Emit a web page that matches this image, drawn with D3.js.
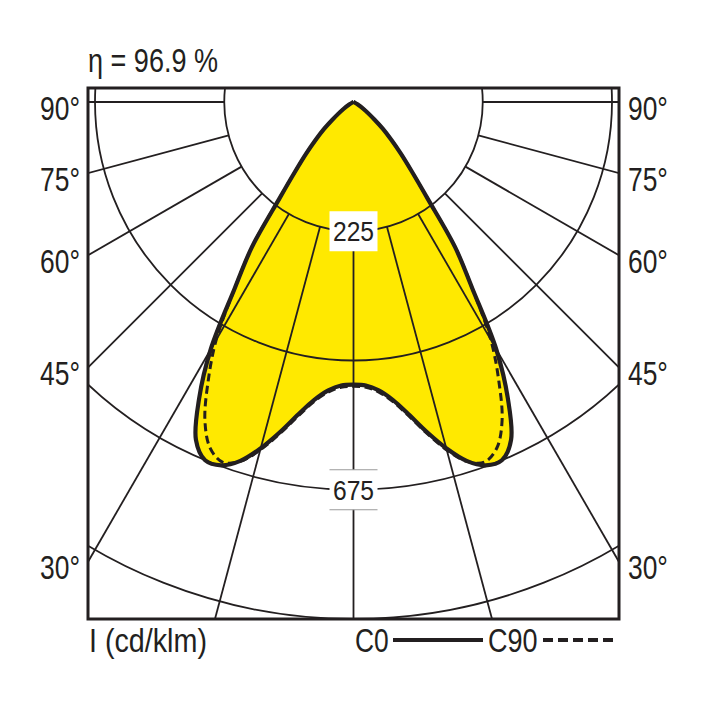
<!DOCTYPE html>
<html>
<head>
<meta charset="utf-8">
<script src="https://cdn.jsdelivr.net/npm/d3@7"></script>
<style>
  html, body { margin: 0; padding: 0; background: #fff; }
  svg { display: block; }
  text { font-family: "Liberation Sans", Arial, sans-serif; fill: #231f20; }
</style>
</head>
<body>
<svg id="chart" width="708" height="708"></svg>
<script>
// Luminous intensity distribution (cd/klm), gamma in degrees from nadir
const gammas = [0, 2.5, 5, 7.5, 10, 12.5, 15, 17.5, 20, 22.5, 25, 27.5, 30, 32.5, 35, 37.5, 40, 42.5, 45, 47.5, 50, 55, 60, 65, 70, 80, 90];
const c0Values = [492, 494, 504, 523, 552, 588, 624, 655, 673, 675, 649, 582, 497, 385, 308, 212, 158, 122, 93, 70, 48, 22, 8, 2, 0, 0, 0];
const c90Values = [495, 497, 507, 526, 555, 591, 627, 656, 667, 652, 612, 548, 478, 385, 308, 212, 158, 122, 93, 70, 48, 22, 8, 2, 0, 0, 0];

// Grid
const ringValues = [225, 450, 675, 900];
const ringLabels = [225, 675];
const spokeAngles = [0, 15, 30, 45, 60, 75, 90];
const sideLabels = [90, 75, 60, 45, 30];

const efficiency = "η = 96.9 %";
const unitLabel = "I (cd/klm)";
const legendNames = ["C0", "C90"];

const ink = "#231f20";
const yellow = "#ffe900";

// Set up dimensions of the frame
const frame = { left: 88, top: 88, right: 619, bottom: 619 };
const cx = (frame.left + frame.right) / 2;
const cy = 102;
const halfW = (frame.right - frame.left) / 2;

const rScale = d3.scaleLinear().domain([0, 900]).range([0, 517]);

const svg = d3.select("#chart");

svg.append("defs")
  .append("clipPath")
  .attr("id", "frameClip")
  .append("rect")
  .attr("x", frame.left)
  .attr("y", frame.top)
  .attr("width", frame.right - frame.left)
  .attr("height", frame.bottom - frame.top);

const plot = svg.append("g")
  .attr("clip-path", "url(#frameClip)");

const g = plot.append("g")
  .attr("transform", `translate(${cx}, ${cy})`);

// build symmetric polar points (left side then right side), drop repeated origin points
function curvePoints(values) {
  const pts = [];
  for (let i = gammas.length - 1; i >= 0; i--) pts.push([-gammas[i], values[i]]);
  for (let i = 1; i < gammas.length; i++) pts.push([gammas[i], values[i]]);
  return pts.filter((d, i, arr) => !(d[1] === 0 && i > 0 && arr[i - 1][1] === 0));
}

const radial = d3.lineRadial()
  .angle((d) => Math.PI - (d[0] * Math.PI) / 180)
  .radius((d) => rScale(d[1]))
  .curve(d3.curveCatmullRom.alpha(0.5));

const c0Points = curvePoints(c0Values);
const c90Points = curvePoints(c90Values);

// Yellow fill
[c0Points, c90Points].forEach((pts) => {
  g.append("path")
    .datum(pts)
    .attr("fill", yellow)
    .attr("stroke", "none")
    .attr("d", radial);
});

// Rings
g.selectAll(".ring")
  .data(ringValues)
  .enter()
  .append("circle")
  .attr("class", "ring")
  .attr("r", (d) => rScale(d))
  .attr("fill", "none")
  .attr("stroke", ink)
  .attr("stroke-width", 1.8);

// Spokes, both sides, from the first ring outward
const spokes = [];
spokeAngles.forEach((a) => {
  spokes.push(a);
  if (a !== 0) spokes.push(-a);
});
g.selectAll(".spoke")
  .data(spokes)
  .enter()
  .append("line")
  .attr("class", "spoke")
  .attr("x1", (d) => rScale(ringValues[0]) * Math.sin((d * Math.PI) / 180))
  .attr("y1", (d) => rScale(ringValues[0]) * Math.cos((d * Math.PI) / 180))
  .attr("x2", (d) => rScale(1400) * Math.sin((d * Math.PI) / 180))
  .attr("y2", (d) => rScale(1400) * Math.cos((d * Math.PI) / 180))
  .attr("stroke", ink)
  .attr("stroke-width", 1.8);

// C90 dashed
g.append("path")
  .datum(c90Points)
  .attr("fill", "none")
  .attr("stroke", ink)
  .attr("stroke-width", 3)
  .attr("stroke-dasharray", "8,4.5")
  .attr("d", radial);

// C0 solid
g.append("path")
  .datum(c0Points)
  .attr("fill", "none")
  .attr("stroke", ink)
  .attr("stroke-width", 4.2)
  .attr("stroke-linejoin", "round")
  .attr("d", radial);

// Ring value labels
const labelBox = { w: 48, h: 40 };
ringLabels.forEach((v) => {
  const y = rScale(v);
  g.append("rect")
    .attr("x", -labelBox.w / 2)
    .attr("y", y - labelBox.h / 2)
    .attr("width", labelBox.w)
    .attr("height", labelBox.h)
    .attr("fill", "#fff");
  if (v !== ringLabels[0]) {
    [y - labelBox.h / 2, y + labelBox.h / 2].forEach((ly) => {
      g.append("line")
        .attr("x1", -labelBox.w / 2)
        .attr("x2", labelBox.w / 2)
        .attr("y1", ly)
        .attr("y2", ly)
        .attr("stroke", "#9a9a9a")
        .attr("stroke-width", 1);
    });
  }
  g.append("text")
    .attr("transform", `translate(0, ${y + 10}) scale(0.88, 1)`)
    .attr("text-anchor", "middle")
    .attr("font-size", 28)
    .text(v);
});

// Frame
svg.append("rect")
  .attr("x", frame.left)
  .attr("y", frame.top)
  .attr("width", frame.right - frame.left)
  .attr("height", frame.bottom - frame.top)
  .attr("fill", "none")
  .attr("stroke", ink)
  .attr("stroke-width", 3);

// Condensed text helper
function label(x, y, str, anchor, sx) {
  svg.append("text")
    .attr("transform", `translate(${x}, ${y}) scale(${sx || 0.8}, 1)`)
    .attr("text-anchor", anchor)
    .attr("font-size", 33)
    .text(str);
}

// Side angle labels where each spoke meets the frame
sideLabels.forEach((a) => {
  const y = cy + halfW / Math.tan((a * Math.PI) / 180) + 17.5;
  label(frame.left - 8, y, `${a}°`, "end");
  label(frame.right + 9, y, `${a}°`, "start");
});

label(frame.left, 72, efficiency, "start", 0.82);
label(frame.left + 1, 652, unitLabel, "start", 0.87);

// Legend
label(355, 652, legendNames[0], "start");
svg.append("line")
  .attr("x1", 393).attr("x2", 483)
  .attr("y1", 640).attr("y2", 640)
  .attr("stroke", ink)
  .attr("stroke-width", 4);
label(488, 652, legendNames[1], "start", 0.82);
svg.append("line")
  .attr("x1", 543).attr("x2", 616)
  .attr("y1", 640).attr("y2", 640)
  .attr("stroke", ink)
  .attr("stroke-width", 4)
  .attr("stroke-dasharray", "10,5");
</script>
</body>
</html>
